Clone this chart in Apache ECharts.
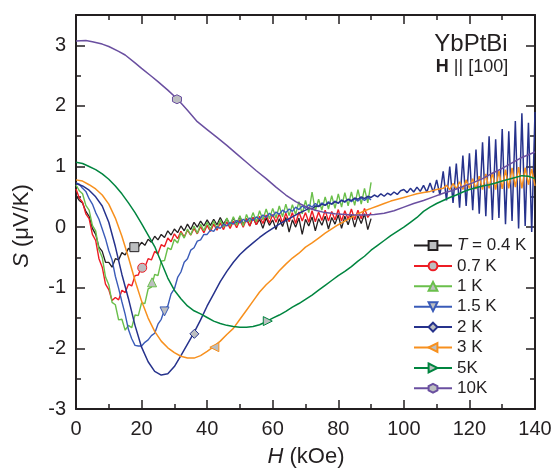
<!DOCTYPE html>
<html>
<head>
<meta charset="utf-8">
<title>YbPtBi thermopower</title>
<script src="https://cdn.jsdelivr.net/npm/echarts@6.0.0/dist/echarts.min.js"></script>
<style>
  html, body { margin: 0; padding: 0; background: #fff; }
  #chart { width: 557px; height: 470px; }
</style>
</head>
<body>
<div id="chart"></div>
<script>
// field grid shared by the four low temperature (noisy) sweeps, kOe
var hLow = [0,1,2,3,4,5,6,7,8,9,10,11,12,13,14,15,16,17,18,19,20,21,22,23,24,25,26,27,28,29,30,
  31,32,33,34,35,36,37,38,39,40,41,42,43,44,45,46,47,48,49,50,51,52,53,54,55,56,57,58,59,60,
  61,62,63,64,65,66,67,68,69,70,71,72,73,74,75,76,77,78,79,80,81,82,83,84,85,86,87,88,89,90];

// S (uV/K), T = 0.4 K
var s04 = [0.52,0.44,0.40,0.26,0.18,-0.02,-0.12,-0.33,-0.40,-0.58,-0.58,-0.66,-0.52,-0.54,-0.42,-0.46,
  -0.35,-0.39,-0.30,-0.33,-0.25,-0.30,-0.20,-0.25,-0.15,-0.21,-0.12,-0.17,-0.06,-0.13,-0.03,-0.09,
  0.02,-0.06,0.05,-0.04,0.08,0.00,0.10,0.02,0.12,0.03,0.13,0.04,0.16,0.05,0.14,0.04,0.15,0.06,
  0.17,0.05,0.14,0.02,0.16,0.04,0.13,-0.02,0.15,0.03,0.12,-0.04,0.14,0.01,0.16,-0.08,0.12,0.00,
  0.15,-0.12,0.13,0.02,0.17,-0.06,0.14,0.03,0.18,-0.03,0.16,0.05,0.20,-0.02,0.18,0.04,0.21,0.00,
  0.19,0.06,0.22,-0.04,0.14];
// 0.7 K
var s07 = [0.63,0.48,0.41,0.22,0.14,-0.12,-0.22,-0.52,-0.66,-0.94,-1.03,-1.21,-1.16,-1.20,-1.04,-1.08,
  -0.94,-0.97,-0.80,-0.79,-0.64,-0.66,-0.52,-0.54,-0.40,-0.44,-0.29,-0.32,-0.18,-0.24,-0.11,-0.19,
  -0.07,-0.16,-0.05,-0.13,-0.02,-0.11,0.01,-0.09,0.03,-0.07,0.05,-0.05,0.07,-0.04,0.09,-0.02,0.10,
  -0.01,0.12,0.00,0.14,0.02,0.16,0.04,0.18,0.06,0.20,0.07,0.21,0.08,0.22,0.07,0.23,0.09,0.24,0.06,
  0.25,0.10,0.24,0.08,0.27,0.09,0.25,0.11,0.28,0.10,0.26,0.12,0.29,0.10,0.27,0.13,0.30,0.12,0.28,
  0.14,0.31,0.16,0.24];
// 1 K
var s1 = [0.70,0.60,0.55,0.36,0.28,0.03,-0.06,-0.37,-0.50,-0.82,-0.95,-1.24,-1.28,-1.53,-1.52,-1.70,
  -1.62,-1.66,-1.45,-1.46,-1.25,-1.26,-1.02,-0.99,-0.78,-0.80,-0.56,-0.55,-0.34,-0.37,-0.20,-0.26,
  -0.09,-0.18,-0.03,-0.13,0.02,-0.10,0.05,-0.06,0.08,-0.04,0.10,-0.02,0.12,0.00,0.15,0.02,0.17,0.03,
  0.19,0.02,0.21,0.08,0.24,0.09,0.27,0.12,0.30,0.14,0.31,0.15,0.35,0.17,0.38,0.19,0.37,0.21,0.42,
  0.22,0.44,0.24,0.58,0.27,0.46,0.28,0.50,0.30,0.52,0.31,0.55,0.33,0.57,0.35,0.58,0.36,0.62,0.38,
  0.64,0.40,0.74];
// 1.5 K
var s15 = [0.73,0.71,0.64,0.59,0.47,0.38,0.24,0.13,-0.03,-0.19,-0.39,-0.54,-0.81,-1.01,-1.23,-1.44,
  -1.69,-1.84,-1.95,-1.96,-1.96,-1.90,-1.86,-1.79,-1.75,-1.60,-1.52,-1.36,-1.30,-1.10,-1.02,-0.83,
  -0.74,-0.58,-0.52,-0.38,-0.34,-0.23,-0.21,-0.12,-0.12,-0.05,-0.07,0.01,-0.02,0.05,0.02,0.08,0.05,
  0.11,0.07,0.13,0.09,0.15,0.11,0.17,0.13,0.20,0.16,0.23,0.18,0.25,0.21,0.28,0.24,0.30,0.26,0.33,
  0.29,0.35,0.31,0.37,0.33,0.39,0.35,0.40,0.36,0.42,0.38,0.43,0.39,0.45,0.41,0.46,0.42,0.47,0.43,
  0.48,0.44,0.49,0.45];

// 2 K
var h2 = [0,2,4,6,8,10,12,14,16,18,20,22,24,26,28,30,32,34,36,38,40,42,44,46,48,50,52,54,56,58,60,
  62,64,66,68,70,71,72,73,74,75,76,77,78,79,80,81,82,83,84,85,86,87,88,89,90,91,92,93,94,95,96,97,
  98,99,100,101,102,103,104,105,106,107,108,109,110,111,112,113,114,115,116,117,118,119,120,121,
  122,123,124,125,126,127,128,129,130,131,132,133,134,135,136,137,138,139,140];
var s2 = [0.72,0.68,0.61,0.50,0.35,0.08,-0.32,-0.78,-1.18,-1.62,-1.98,-2.22,-2.38,-2.44,-2.42,-2.30,
  -2.12,-1.93,-1.74,-1.53,-1.30,-1.10,-0.90,-0.73,-0.58,-0.45,-0.35,-0.26,-0.17,-0.09,-0.02,0.05,
  0.11,0.17,0.23,
  0.28,0.31,0.30,0.35,0.34,0.38,0.36,0.40,0.38,0.42,0.40,0.44,0.42,0.46,0.44,0.48,0.46,0.50,0.47,
  0.51,0.49,0.53,0.50,0.55,0.51,0.56,0.53,0.58,0.54,0.60,
  0.62,0.57,0.64,0.58,0.66,0.59,0.69,0.58,0.73,0.57,0.78,0.53,0.92,0.44,1.00,0.40,1.05,0.32,1.18,
  0.35,1.22,0.28,1.28,0.22,1.40,0.18,1.50,0.12,1.45,0.15,1.62,0.05,1.58,0.10,1.75,-0.02,1.88,0.02,
  1.72,-0.08,1.90];

// 3 K
var h3 = [0,2,4,6,8,10,12,14,16,18,20,22,24,26,28,30,32,34,36,38,40,42,44,46,48,50,52,54,56,58,60,
  62,64,66,68,70,72,74,76,78,80,82,84,86,88,90,92,94,96,98,100,102,104,106,108,110,112,
  113,114,115,116,117,118,119,120,121,122,123,124,125,126,127,128,129,130,131,132,133,134,135,136,
  137,138,139,140];
var s3 = [0.78,0.76,0.70,0.63,0.53,0.38,0.15,-0.15,-0.50,-0.88,-1.22,-1.50,-1.72,-1.88,-1.99,-2.07,
  -2.13,-2.16,-2.16,-2.12,-2.05,-1.97,-1.88,-1.77,-1.67,-1.52,-1.37,-1.22,-1.07,-0.95,-0.85,-0.72,
  -0.61,-0.51,-0.43,-0.33,-0.26,-0.18,-0.10,-0.03,0.04,0.10,0.16,0.22,0.27,0.31,0.35,0.39,0.43,0.46,
  0.49,0.52,0.55,0.57,0.59,0.62,0.64,
  0.69,0.62,0.72,0.63,0.75,0.62,0.78,0.64,0.80,0.63,0.84,0.62,0.88,0.64,0.90,0.62,0.93,0.63,0.95,
  0.64,0.98,0.66,0.99,0.64,0.98,0.70,0.96,0.68];

// 5 K
var h5 = [0,2,4,6,8,10,12,14,16,18,20,22,24,26,28,30,32,34,36,38,40,42,44,46,48,50,52,54,56,58,60,
  62,64,66,68,70,72,74,76,78,80,82,84,86,88,90,92,94,96,98,100,102,104,106,108,110,112,114,116,118,
  120,122,124,126,128,130,132,134,136,138,140];
var s5 = [1.07,1.05,1.00,0.95,0.88,0.79,0.68,0.55,0.40,0.24,0.06,-0.13,-0.32,-0.58,-0.84,-1.04,-1.18,
  -1.30,-1.38,-1.43,-1.49,-1.55,-1.59,-1.62,-1.64,-1.65,-1.65,-1.64,-1.61,-1.56,-1.50,-1.45,-1.39,
  -1.32,-1.26,-1.19,-1.12,-1.04,-0.96,-0.88,-0.80,-0.73,-0.65,-0.56,-0.48,-0.38,-0.30,-0.22,-0.14,
  -0.07,0.00,0.08,0.16,0.26,0.33,0.39,0.44,0.49,0.53,0.58,0.62,0.65,0.68,0.70,0.73,0.76,0.79,0.82,
  0.85,0.84,0.80];

// 10 K
var h10 = [0,3,5,8,10,13,15,18,20,23,25,28,31,34,37,40,43,46,49,52,55,58,61,64,67,70,73,76,79,82,
  85,88,91,94,97,100,103,106,109,112,115,118,121,124,127,130,133,136,140];
var s10 = [3.07,3.08,3.06,3.02,2.98,2.90,2.84,2.71,2.62,2.49,2.40,2.26,2.11,1.93,1.74,1.61,1.48,1.35,
  1.21,1.07,0.93,0.80,0.66,0.53,0.42,0.34,0.28,0.24,0.22,0.21,0.20,0.20,0.21,0.23,0.27,0.33,0.39,
  0.44,0.50,0.56,0.61,0.67,0.73,0.80,0.89,0.97,1.06,1.15,1.24];

// one grey marker on each curve
var names = ['T = 0.4 K', '0.7 K', '1 K', '1.5 K', '2 K', '3 K', '5K', '10K'];
var markH = [17.8, 20.2, 23.2, 27.0, 36.1, 42.2, 58.5, 30.8];
var markS = [-0.33, -0.67, -0.91, -1.39, -1.76, -1.98, -1.55, 2.11];

var ink = '#231f20';
var ff = '"Liberation Sans", Arial, Helvetica, sans-serif';
var markFill = '#bcbec0';

var colors = ['#231f20', '#ed1c24', '#6abf4b', '#3a5bb8', '#26328c', '#f7901e', '#00853f', '#6a4fa0'];
var symbols = [
  'rect',
  'circle',
  'triangle',
  'path://M0,0L10,0L5,9Z',
  'path://M5,0L10,5L5,10L0,5Z',
  'path://M0,5L9,0L9,10Z',
  'path://M0,0L9,5L0,10Z',
  'path://M5,0L9.33,2.5L9.33,7.5L5,10L0.67,7.5L0.67,2.5Z'
];

function makeSeries(k, h, s, width) {
  return {
    name: names[k],
    type: 'line',
    xAxisIndex: 0,
    yAxisIndex: 0,
    data: h.map(function (x, i) { return [x, s[i]]; }),
    showSymbol: false,
    symbol: symbols[k],
    symbolSize: 9,
    lineStyle: { color: colors[k], width: width },
    itemStyle: { color: markFill, borderColor: colors[k], borderWidth: 1 },
    emphasis: { disabled: true },
    markPoint: {
      symbol: symbols[k],
      symbolSize: 9,
      label: { show: false },
      itemStyle: { color: markFill, borderColor: colors[k], borderWidth: 1 },
      data: [{ coord: [markH[k], markS[k]] }]
    }
  };
}

function xAx(pos) {
  return {
    type: 'value', position: pos, min: 0, max: 140, interval: 20,
    axisLine: { show: true, onZero: false, lineStyle: { color: ink, width: 2 } },
    axisTick: { show: true, inside: true, length: 9, lineStyle: { color: ink, width: 1.5 } },
    minorTick: { show: true, splitNumber: 2, length: 5, lineStyle: { color: ink, width: 1.5 } },
    axisLabel: { show: pos === 'bottom', fontSize: 20, fontFamily: ff, color: ink, margin: 10 },
    splitLine: { show: false }
  };
}

function yAx(pos, step, len, showLine) {
  return {
    type: 'value', position: pos, min: -3, max: 3.5, interval: step,
    axisLine: { show: showLine, onZero: false, lineStyle: { color: ink, width: 2 } },
    axisTick: { show: true, inside: true, length: len, lineStyle: { color: ink, width: 1.5 } },
    axisLabel: { show: pos === 'left' && step === 1, showMaxLabel: false, fontSize: 20,
      fontFamily: ff, color: ink, margin: 10 },
    splitLine: { show: false }
  };
}

var chart = echarts.init(document.getElementById('chart'));
chart.setOption({
  animation: false,
  backgroundColor: '#fff',
  grid: { left: 76, right: 22, top: 15, bottom: 61, containLabel: false },
  xAxis: [xAx('bottom'), xAx('top')],
  yAxis: [yAx('left', 1, 9, true), yAx('left', 0.5, 5, false), yAx('right', 1, 9, true), yAx('right', 0.5, 5, false)],
  legend: {
    orient: 'vertical',
    left: 408,
    top: 232,
    itemWidth: 38,
    itemHeight: 11,
    itemGap: 3.4,
    selectedMode: false,
    textStyle: {
      fontSize: 17, fontFamily: ff, color: ink, lineHeight: 17,
      rich: { i: { fontStyle: 'italic', fontSize: 17, fontFamily: ff, color: ink, lineHeight: 17 } }
    },
    formatter: function (name) {
      return name.indexOf('T = ') === 0 ? '{i|T}' + name.slice(1) : name;
    },
    data: names
  },
  graphic: [
    { type: 'text', x: 471, y: 44, style: { text: 'YbPtBi', fontSize: 24, fontFamily: ff, fill: ink,
      align: 'center', verticalAlign: 'middle' } },
    { type: 'text', x: 472, y: 67, style: { text: '{b|H} || [100]', fontSize: 18, fontFamily: ff, fill: ink,
      align: 'center', verticalAlign: 'middle',
      rich: { b: { fontWeight: 'bold', fontSize: 18, fontFamily: ff, fill: ink } } } },
    { type: 'text', x: 306, y: 457, style: { text: '{i|H} (kOe)', fontSize: 22, fontFamily: ff, fill: ink,
      align: 'center', verticalAlign: 'middle',
      rich: { i: { fontStyle: 'italic', fontSize: 22, fontFamily: ff, fill: ink } } } },
    { type: 'text', x: 22, y: 226, rotation: Math.PI / 2, style: { text: '{i|S} (μV/K)', fontSize: 22,
      fontFamily: ff, fill: ink, align: 'center', verticalAlign: 'middle',
      rich: { i: { fontStyle: 'italic', fontSize: 22, fontFamily: ff, fill: ink } } } }
  ],
  series: [
    makeSeries(0, hLow, s04, 1.3),
    makeSeries(1, hLow, s07, 1.4),
    makeSeries(2, hLow, s1, 1.4),
    makeSeries(3, hLow, s15, 1.4),
    makeSeries(4, h2, s2, 1.5),
    makeSeries(5, h3, s3, 1.5),
    makeSeries(6, h5, s5, 1.5),
    makeSeries(7, h10, s10, 1.5)
  ]
});
</script>
</body>
</html>
